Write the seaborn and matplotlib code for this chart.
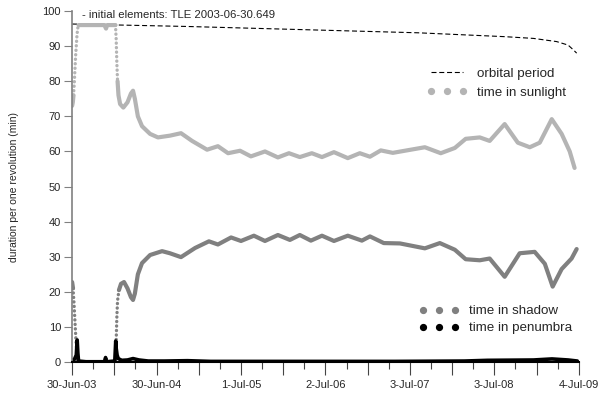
import matplotlib
matplotlib.use("Agg")
from matplotlib import pyplot as plt
from matplotlib.lines import Line2D
import matplotlib.dates as mdates
import pandas as pd
import seaborn as sns

start = pd.Timestamp('2003-06-30')

# days since 30-Jun-03, values in minutes
sun_days = [0, 3, 6, 9, 12, 15, 18, 21, 24, 28, 60, 140, 147, 152, 185, 188, 191, 194, 197, 201,
            208, 222, 240, 255, 264, 272, 285, 303, 338, 372, 424, 472, 520, 546, 585, 632, 676,
            728, 775, 836, 892, 940, 987, 1039, 1083, 1135, 1195, 1247, 1291, 1338, 1390, 1442,
            1529, 1598, 1659, 1706, 1767, 1810, 1875, 1932, 1984, 2027, 2079, 2122, 2157, 2178]
sun_vals = [73, 74, 76, 79, 83, 87, 90, 93, 95, 96, 96, 96, 95, 96, 96, 96, 92, 85, 80, 76,
            73.5, 72.5, 74, 76.5, 77.3, 75, 70, 67.2, 65, 64, 64.5, 65.2, 63, 62, 60.5, 61.5, 59.5,
            60.2, 58.6, 60, 58.3, 59.5, 58.4, 59.5, 58.4, 59.8, 58.1, 59.5, 58.5, 60.3, 59.6, 60.2,
            61.2, 59.5, 61, 63.6, 64, 63, 67.8, 62.5, 61.2, 62.5, 69.2, 65, 60, 55.3]

shadow_days = [0, 4, 8, 12, 16, 20, 24, 28, 100, 188, 191, 194, 197, 203, 212, 225, 240, 255,
               264, 272, 285, 303, 338, 390, 424, 472, 533, 593, 632, 689, 732, 788, 836, 892,
               944, 987, 1035, 1083, 1135, 1195, 1256, 1291, 1351, 1421, 1529, 1594, 1659, 1706,
               1767, 1810, 1875, 1940, 2005, 2049, 2083, 2122, 2165, 2187]
shadow_vals = [22.8, 21, 17, 12, 7, 3, 0.5, 0, 0, 0, 6, 13, 17.5, 20.5, 22.3, 22.8, 21, 18.5,
               17.7, 19.5, 25, 28.2, 30.5, 31.6, 31, 29.9, 32.5, 34.4, 33.5, 35.5, 34.5, 36, 34.5, 36.2,
               34.8, 36.2, 34.6, 36, 34.5, 36, 34.6, 35.8, 33.9, 33.8, 32.4, 33.9, 32, 29.3,
               29, 29.5, 24.3, 31, 31.4, 28, 21.5, 26.5, 29.5, 32.2]

pen_days = [0, 10, 18, 22, 25, 28, 60, 140, 145, 150, 185, 189, 191, 195, 200, 215, 240, 264,
            290, 330, 400, 500, 600, 1000, 1400, 1700, 1800, 2000, 2080, 2150, 2190]
pen_vals = [0.5, 0.8, 2, 6.3, 2.5, 0.3, 0.1, 0.1, 1.3, 0.1, 0.3, 6, 4, 2, 1, 0.5, 0.6, 1.0,
            0.6, 0.3, 0.3, 0.4, 0.2, 0.2, 0.2, 0.3, 0.5, 0.6, 0.9, 0.6, 0.3]

period_days = [0, 500, 1000, 1500, 1875, 2000, 2100, 2150, 2175, 2187]
period_vals = [96.3, 95.6, 94.7, 93.8, 92.7, 92.2, 91.3, 90.3, 88.8, 88]

tick_labels = ['30-Jun-03', '30-Jun-04', '1-Jul-05', '2-Jul-06', '3-Jul-07', '3-Jul-08', '4-Jul-09']

# steep stretches are drawn as sparse dots (index ranges into the lists above)
sun_dotted = [(2, 9), (15, 18)]
shadow_dotted = [(1, 6), (9, 13)]


def to_dates(days):
    return start + pd.to_timedelta(days, unit='D')


def draw_series(ax, days, vals, color, lw, dotted):
    cuts = [0]
    for a, b in dotted:
        cuts += [a, b]
    cuts.append(len(days) - 1)
    for i in range(len(cuts) - 1):
        a, b = cuts[i], cuts[i + 1]
        if b <= a:
            continue
        is_dot = i % 2 == 1
        sns.lineplot(x=to_dates(days[a:b + 1]), y=vals[a:b + 1], ax=ax, color=color,
                     lw=2.4 if is_dot else lw,
                     linestyle=(0, (0.05, 1.3)) if is_dot else '-',
                     dash_capstyle='round', solid_capstyle='round')


sns.set_style("ticks")
plt.rcParams['font.family'] = ['Liberation Sans', 'DejaVu Sans']

fig = plt.figure(figsize=(6.06, 3.94), dpi=100)
ax = fig.add_axes([0.119, 0.081, 0.836, 0.891])

sun_c, shadow_c, pen_c = '#b4b4b4', '#808080', 'black'

sns.lineplot(x=to_dates(period_days), y=period_vals, ax=ax, color='black', lw=0.8,
             linestyle=(0, (4.5, 2.5)))
draw_series(ax, sun_days, sun_vals, sun_c, 3.0, sun_dotted)
draw_series(ax, shadow_days, shadow_vals, shadow_c, 3.0, shadow_dotted)
sns.lineplot(x=to_dates(pen_days), y=pen_vals, ax=ax, color=pen_c, lw=2.6)

# axes limits and ticks
x0 = mdates.date2num(start)
ax.set_xlim(x0, x0 + 6 * 366)
ax.set_ylim(0, 100)
ax.set_xticks([x0 + 183 * k for k in range(13)])
ax.set_xticklabels([tick_labels[k // 2] if k % 2 == 0 else '' for k in range(13)])
ax.set_xticks([x0 + 91.5 + 183 * k for k in range(12)], minor=True)
ax.set_yticks(range(0, 101, 10))
ax.tick_params(axis='x', which='major', length=9, width=0.8, color='#444444', labelsize=8, pad=4)
ax.tick_params(axis='x', which='minor', length=5, width=0.8, color='#444444')
ax.tick_params(axis='y', length=6, width=0.8, color='#808080', labelsize=8, pad=2)
for s in ['top', 'right']:
    ax.spines[s].set_visible(False)
ax.spines['left'].set_color('#808080')
ax.spines['left'].set_linewidth(1.2)
ax.spines['bottom'].set_color('black')
ax.spines['bottom'].set_linewidth(1.5)

ax.set_ylabel('duration per one revolution (min)', fontsize=7.5, labelpad=17)
ax.set_xlabel('')

ax.text(0.02, 0.989, '- initial elements: TLE 2003-06-30.649', transform=ax.transAxes,
        fontsize=8.2, va='center', ha='left')

h1 = [Line2D([], [], color='black', lw=0.8, linestyle=(0, (4.5, 2.5))),
      Line2D([], [], ls='none', marker='o', ms=4.2, color=sun_c)]
leg1 = ax.legend(h1, ['orbital period', 'time in sunlight'], loc='upper left',
                 bbox_to_anchor=(0.7, 0.84), frameon=False, numpoints=3, fontsize=9.6,
                 handlelength=3.0, handletextpad=0.75, labelspacing=0.5, borderpad=0,
                 borderaxespad=0)
ax.add_artist(leg1)
h2 = [Line2D([], [], ls='none', marker='o', ms=4.2, color=shadow_c),
      Line2D([], [], ls='none', marker='o', ms=4.2, color=pen_c)]
ax.legend(h2, ['time in shadow', 'time in penumbra'], loc='upper left',
          bbox_to_anchor=(0.685, 0.163), frameon=False, numpoints=3, fontsize=9.6,
          handlelength=3.0, handletextpad=0.75, labelspacing=0.36, borderpad=0,
          borderaxespad=0)

fig.savefig('out.png', dpi=100)
